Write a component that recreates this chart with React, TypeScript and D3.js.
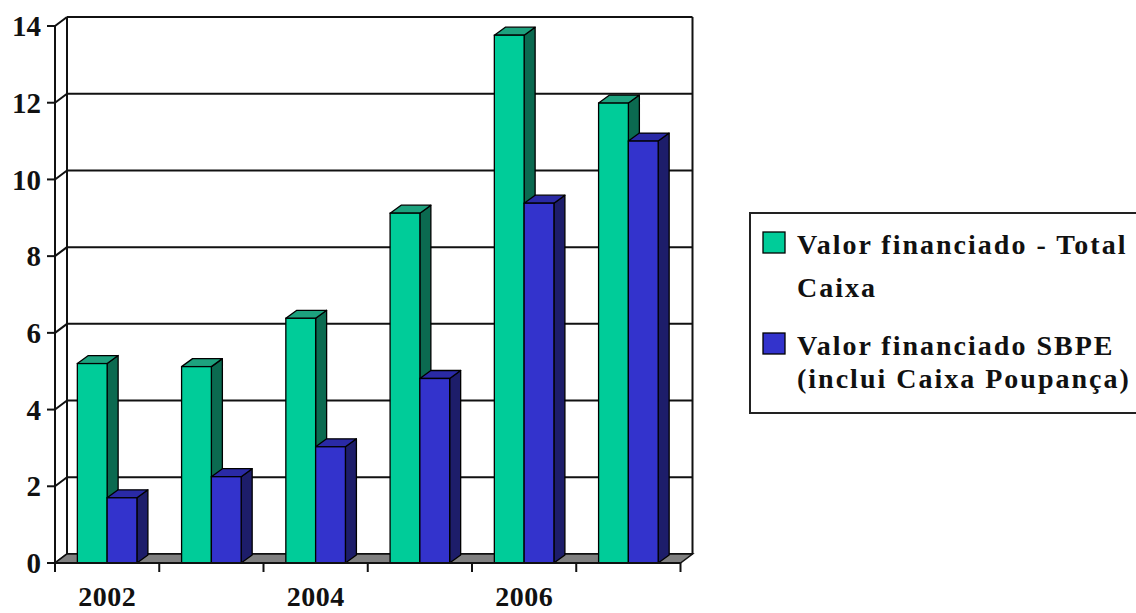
import React, { useEffect } from "react";
import * as d3 from "d3";

const years = ["2002", "2003", "2004", "2005", "2006", "2007"];
const labeledYears = ["2002", "2004", "2006"];
const totalCaixa = [5.2, 5.12, 6.38, 9.12, 13.76, 11.99];
const sbpe = [1.7, 2.25, 3.03, 4.81, 9.38, 11.0];
const yTicks = [0, 2, 4, 6, 8, 10, 12, 14];
const seriesNames = ["Valor financiado - Total|Caixa", "Valor financiado SBPE|(inclui Caixa Poupança)"];

const W = 1136;
const H = 613;
const FONT = "'Liberation Serif', 'Times New Roman', serif";

const palette = [
  { face: "#00CC99", top: "#1DA27E", side: "#0B6A50" },
  { face: "#3333CC", top: "#2A2AA6", side: "#1D1D6A" },
];

const textStyle = { fontFamily: FONT, fontWeight: 700 } as React.CSSProperties;

export default function App() {
  useEffect(() => {
    document.body.style.margin = "0";
    document.body.style.overflow = "hidden";
  }, []);

  const x0 = 55, x1 = 680.5;
  const yBase = 563, yTop = 26;
  const dx = 12, dy = 9; // wall depth offset
  const bdx = 11, bdy = 8; // bar depth offset

  const y = d3.scaleLinear().domain([0, 14]).range([yBase, yTop]);
  const x = d3.scaleBand<string>().domain(years).range([x0, x1]).padding(0);
  const bw = x.bandwidth();
  const inner = d3.scaleBand<number>().domain([0, 1]).range([0, bw]).paddingInner(0).paddingOuter(0.75);
  const barW = inner.bandwidth();

  const series = [totalCaixa, sbpe];

  const wallColor = "#111";
  const floor = [
    [x0, yBase],
    [x0 + dx, yBase - dy],
    [x1 + dx, yBase - dy],
    [x1, yBase],
  ];
  const pts = (p: number[][]) => p.map((q) => q.join(",")).join(" ");

  const boundaries = years.map((c) => x(c) as number).concat([x1]);

  return (
    <svg width={W} height={H} style={{ position: "absolute", left: 0, top: 0, background: "#fff" }}>
      {/* back wall */}
      <rect x={x0 + dx} y={yTop - dy} width={x1 - x0} height={yBase - yTop} fill="#fff" />
      {/* gridlines on back wall and left wall */}
      {yTicks.map((t) => (
        <g key={"g" + t}>
          <line x1={x0 + dx} x2={x1 + dx} y1={y(t) - dy} y2={y(t) - dy} stroke={wallColor} strokeWidth={2} />
          <line x1={x0} x2={x0 + dx} y1={y(t)} y2={y(t) - dy} stroke={wallColor} strokeWidth={2} />
        </g>
      ))}
      {/* wall edges */}
      <line x1={x0 + dx} x2={x0 + dx} y1={yTop - dy} y2={yBase - dy} stroke={wallColor} strokeWidth={2} />
      <line x1={x1 + dx} x2={x1 + dx} y1={yTop - dy} y2={yBase - dy} stroke={wallColor} strokeWidth={2} />
      {/* floor */}
      <polygon points={pts(floor)} fill="#808080" stroke="#111" strokeWidth={1.5} />

      {/* bars */}
      {years.map((c, i) => (
        <g key={c}>
          {series.map((s, si) => {
            const bx = (x(c) as number) + (inner(si) as number);
            const by = y(s[i]);
            const col = palette[si];
            const top = [
              [bx, by],
              [bx + bdx, by - bdy],
              [bx + barW + bdx, by - bdy],
              [bx + barW, by],
            ];
            const side = [
              [bx + barW, by],
              [bx + barW + bdx, by - bdy],
              [bx + barW + bdx, yBase - bdy],
              [bx + barW, yBase],
            ];
            return (
              <g key={si}>
                <polygon points={pts(side)} fill={col.side} stroke="#000" strokeWidth={1.3} strokeLinejoin="round" />
                <polygon points={pts(top)} fill={col.top} stroke="#000" strokeWidth={1.3} strokeLinejoin="round" />
                <rect x={bx} y={by} width={barW} height={yBase - by} fill={col.face} stroke="#000" strokeWidth={1.3} />
              </g>
            );
          })}
        </g>
      ))}

      {/* axes */}
      <line x1={x0} x2={x0} y1={yTop} y2={yBase} stroke="#111" strokeWidth={2} />
      <line x1={x0} x2={x1} y1={yBase} y2={yBase} stroke="#111" strokeWidth={2} />
      {yTicks.map((t) => (
        <g key={"t" + t}>
          <line x1={x0 - 8} x2={x0} y1={y(t)} y2={y(t)} stroke="#111" strokeWidth={2} />
          <text x={41} y={y(t)} dy="0.35em" textAnchor="end" style={{ ...textStyle, fontSize: 29 }} fill="#111">
            {t}
          </text>
        </g>
      ))}
      {boundaries.map((b, i) => (
        <line key={"xt" + i} x1={b} x2={b} y1={yBase} y2={yBase + 9} stroke="#111" strokeWidth={2} />
      ))}
      {labeledYears.map((c) => (
        <text
          key={"xl" + c}
          x={(x(c) as number) + bw / 2}
          y={606}
          textAnchor="middle"
          style={{ ...textStyle, fontSize: 28, letterSpacing: "0.5px" }}
          fill="#111"
        >
          {c}
        </text>
      ))}

      {/* legend */}
      <rect x={750} y={213} width={420} height={200} fill="#fff" stroke="#222" strokeWidth={2} />
      {seriesNames.map((name, si) => {
        const lines = name.split("|");
        const base = si === 0 ? 254 : 355;
        return (
          <g key={"lg" + si}>
            <rect x={763} y={base - 22} width={22} height={21} fill={palette[si].face} stroke="#000" strokeWidth={1.3} />
            {lines.map((ln, li) => (
              <text
                key={li}
                x={797}
                y={base + li * (si === 0 ? 43 : 33)}
                style={{ ...textStyle, fontSize: 28, letterSpacing: "2px" }}
                fill="#111"
              >
                {ln}
              </text>
            ))}
          </g>
        );
      })}
    </svg>
  );
}
